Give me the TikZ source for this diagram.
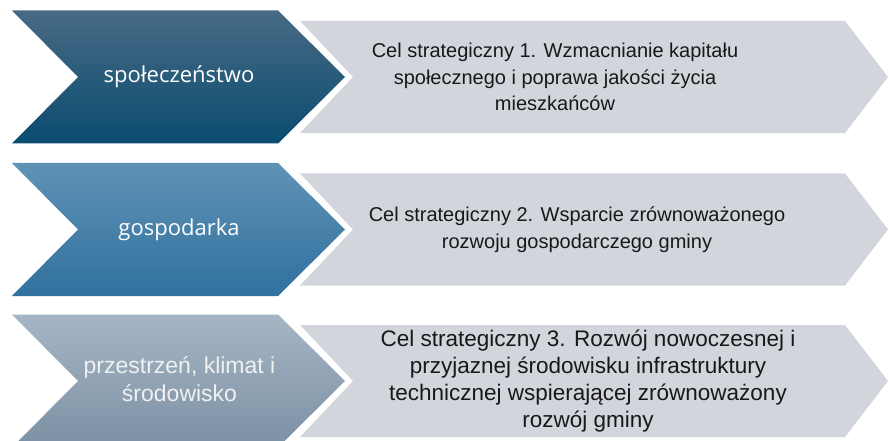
\documentclass[tikz,border=0pt]{standalone}
\usepackage{fontspec}
\setmainfont{Liberation Sans}
\newfontfamily\opensans{Open Sans}
\usepackage{xcolor}
\usepackage{tikz}

\definecolor{darktop}{RGB}{72,106,132}
\definecolor{darkbot}{RGB}{10,76,112}
\definecolor{midtop}{RGB}{96,146,182}
\definecolor{midbot}{RGB}{48,113,158}
\definecolor{palebot}{RGB}{124,144,164}
\definecolor{paletop}{RGB}{166,181,196}
\definecolor{goalgray}{RGB}{210,214,220}
\definecolor{goaltext}{RGB}{24,24,24}

\begin{document}
\begin{tikzpicture}%
                [x=1pt, y=-1pt,
                goal/.style={fill=goalgray},
                arrow1/.style={top color=darktop, bottom color=darkbot},
                arrow2/.style={top color=midtop, bottom color=midbot},
                arrow3/.style={top color=paletop, bottom color=palebot},
                area/.style={text=white, align=center, font=\opensans\fontsize{22}{28}\selectfont},
                area3/.style={text=white!94!black, align=center, font=\fontsize{23}{28}\selectfont},
                goaltxt/.style={text=goaltext, align=center, font=\fontsize{20}{26.5}\selectfont},
                goaltxt3/.style={goaltxt, font=\fontsize{22.5}{27}\selectfont}]

            \clip (0,0) rectangle (889,441);
            %% Grey goal chevrons
            \fill[goal] (300,21) -- (845,21) -- (888,77) -- (845,133) -- (300,133) -- (353,77) -- cycle;
            \fill[goal] (300,173.5) -- (845,173.5) -- (888,229.5) -- (845,285.5) -- (300,285.5) -- (353,229.5) -- cycle;
            \fill[goal] (300,325) -- (845,325) -- (888,381) -- (845,437) -- (300,437) -- (353,381) -- cycle;
            %%
            %% Area chevrons
            %%
            \shade[arrow1] (12,10.5) -- (278,10.5) -- (345,77) -- (278,143.5) -- (12,143.5) -- (78,77) -- cycle;
            \shade[arrow2] (12,163) -- (278,163) -- (345,229.5) -- (278,296) -- (12,296) -- (78,229.5) -- cycle;
            \shade[arrow3] (12,314.5) -- (278,314.5) -- (345,381) -- (278,447.5) -- (12,447.5) -- (78,381) -- cycle;
            %%
            %% Labels
            %%
            \node[area] (spol) at (179,77) {społeczeństwo};
            \node[area] (gosp) at (179,229.5) {gospodarka};
            \node[area3] (przes) at (179.5,379) {przestrzeń, klimat i\\środowisko};
            \node[goaltxt] (cel1) at (555,77) {Cel strategiczny 1. Wzmacnianie kapitału\\społecznego i poprawa jakości życia\\mieszkańców};
            \node[goaltxt] (cel2) at (577,229.5) {Cel strategiczny 2. Wsparcie zrównoważonego\\rozwoju gospodarczego gminy};
            \node[goaltxt3] (cel3) at (588,381) {Cel strategiczny 3. Rozwój nowoczesnej i\\przyjaznej środowisku infrastruktury\\technicznej wspierającej zrównoważony\\rozwój gminy};
            %%
\end{tikzpicture}
\end{document}
